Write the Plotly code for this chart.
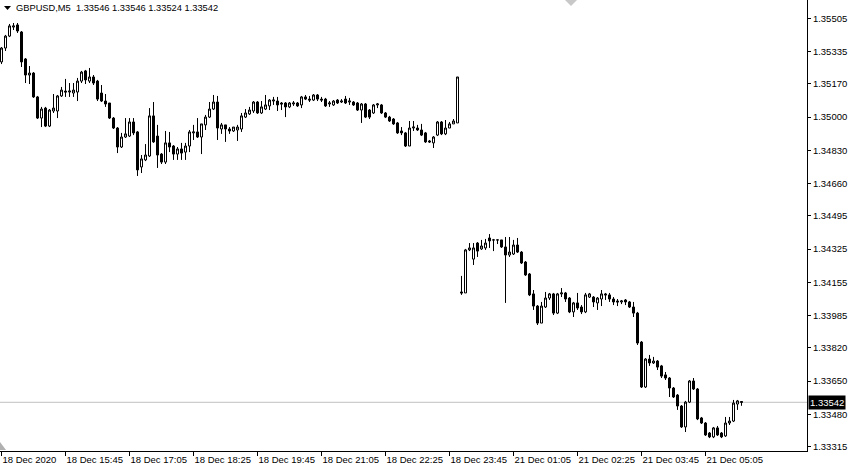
import pandas as pd
import plotly.graph_objects as go

# ---- data (GBPUSD M5) ----
fri = pd.date_range("2020-12-18 14:25", "2020-12-18 23:55", freq="5min")
mon = pd.date_range("2020-12-21 00:00", "2020-12-21 05:50", freq="5min")
times = [t.strftime("%Y-%m-%d %H:%M") for t in list(fri) + list(mon)]

open_ = [1.35282, 1.35353, 1.35414, 1.35460, 1.35471, 1.35435, 1.35297, 1.35215, 1.35225, 1.35103,
         1.34995, 1.35046, 1.34954, 1.35031, 1.35031, 1.35108, 1.35133, 1.35128, 1.35123, 1.35128,
         1.35184, 1.35236, 1.35184, 1.35205, 1.35184, 1.35123, 1.35082, 1.35072, 1.34995, 1.34944,
         1.34847, 1.34898, 1.34903, 1.34975, 1.34924, 1.34745, 1.34781, 1.34801, 1.35006, 1.34903,
         1.34811, 1.34770, 1.34868, 1.34852, 1.34811, 1.34837, 1.34821, 1.34852, 1.34919, 1.34924,
         1.34898, 1.34960, 1.35000, 1.35041, 1.35077, 1.34939, 1.34960, 1.34939, 1.34929, 1.34934,
         1.34939, 1.35000, 1.35016, 1.35031, 1.35077, 1.35021, 1.35041, 1.35057, 1.35082, 1.35082,
         1.35072, 1.35072, 1.35052, 1.35067, 1.35072, 1.35062, 1.35103, 1.35092, 1.35087, 1.35113,
         1.35092, 1.35092, 1.35067, 1.35062, 1.35087, 1.35077, 1.35092, 1.35077, 1.35077, 1.35072,
         1.35036, 1.35067, 1.35036, 1.35021, 1.35062, 1.35062, 1.35021, 1.35000, 1.34990, 1.34970,
         1.34929, 1.34919, 1.34852, 1.34944, 1.34944, 1.34934, 1.34919, 1.34878, 1.34868, 1.34908,
         1.34975, 1.34914, 1.34944, 1.34965, 1.34970,
         1.34106, 1.34101, 1.34321, 1.34274, 1.34356,
         1.34326, 1.34331, 1.34382, 1.34372, 1.34372, 1.34372, 1.34336, 1.34295, 1.34300, 1.34346,
         1.34310, 1.34259, 1.34198, 1.34096, 1.34034, 1.33947, 1.34029, 1.34075, 1.34096, 1.33998,
         1.34096, 1.34101, 1.34075, 1.34004, 1.34050, 1.34029, 1.34004, 1.34080, 1.34080, 1.34050,
         1.34070, 1.34096, 1.34091, 1.34070, 1.34060, 1.34055, 1.34065, 1.34055, 1.34029, 1.33998,
         1.33850, 1.33620, 1.33763, 1.33743, 1.33753, 1.33728, 1.33682, 1.33666, 1.33615, 1.33579,
         1.33523, 1.33416, 1.33543, 1.33651, 1.33610, 1.33462, 1.33436, 1.33385, 1.33365, 1.33411,
         1.33385, 1.33370, 1.33436, 1.33446, 1.33533, 1.33546]

high = [1.35358, 1.35420, 1.35476, 1.35481, 1.35481, 1.35440, 1.35302, 1.35261, 1.35230, 1.35108,
        1.35052, 1.35052, 1.35041, 1.35118, 1.35113, 1.35154, 1.35195, 1.35174, 1.35174, 1.35200,
        1.35236, 1.35241, 1.35251, 1.35215, 1.35190, 1.35164, 1.35118, 1.35072, 1.35000, 1.34949,
        1.34919, 1.34995, 1.34995, 1.34995, 1.34929, 1.34806, 1.34862, 1.35046, 1.35077, 1.34960,
        1.34816, 1.34929, 1.34924, 1.34857, 1.34847, 1.34868, 1.34868, 1.34934, 1.34960, 1.34995,
        1.34965, 1.35011, 1.35077, 1.35113, 1.35108, 1.34970, 1.34960, 1.34949, 1.34949, 1.34960,
        1.35021, 1.35041, 1.35052, 1.35082, 1.35082, 1.35082, 1.35113, 1.35092, 1.35103, 1.35103,
        1.35077, 1.35077, 1.35077, 1.35082, 1.35077, 1.35108, 1.35113, 1.35108, 1.35118, 1.35118,
        1.35103, 1.35098, 1.35082, 1.35087, 1.35092, 1.35092, 1.35108, 1.35098, 1.35082, 1.35077,
        1.35072, 1.35072, 1.35041, 1.35067, 1.35072, 1.35067, 1.35026, 1.35006, 1.34995, 1.34975,
        1.34949, 1.34924, 1.34980, 1.34980, 1.34960, 1.34965, 1.34924, 1.34883, 1.34903, 1.34980,
        1.34980, 1.34985, 1.34975, 1.34990, 1.35205,
        1.34188, 1.34326, 1.34356, 1.34356, 1.34361,
        1.34372, 1.34377, 1.34402, 1.34377, 1.34372, 1.34372, 1.34387, 1.34387, 1.34372, 1.34382,
        1.34315, 1.34264, 1.34203, 1.34116, 1.34039, 1.34055, 1.34106, 1.34101, 1.34101, 1.34101,
        1.34126, 1.34106, 1.34080, 1.34055, 1.34101, 1.34039, 1.34101, 1.34101, 1.34085, 1.34080,
        1.34116, 1.34101, 1.34101, 1.34080, 1.34070, 1.34065, 1.34070, 1.34060, 1.34055, 1.34004,
        1.33855, 1.33768, 1.33784, 1.33774, 1.33758, 1.33733, 1.33697, 1.33671, 1.33620, 1.33584,
        1.33528, 1.33549, 1.33656, 1.33666, 1.33615, 1.33467, 1.33441, 1.33390, 1.33416, 1.33421,
        1.33390, 1.33467, 1.33467, 1.33554, 1.33554, 1.33546]

low = [1.35271, 1.35338, 1.35409, 1.35445, 1.35430, 1.35256, 1.35174, 1.35169, 1.35098, 1.34990,
       1.34949, 1.34949, 1.34949, 1.35021, 1.34995, 1.35103, 1.35103, 1.35103, 1.35103, 1.35082,
       1.35174, 1.35169, 1.35174, 1.35164, 1.35082, 1.35077, 1.35052, 1.34990, 1.34939, 1.34816,
       1.34842, 1.34893, 1.34898, 1.34908, 1.34699, 1.34714, 1.34775, 1.34796, 1.34868, 1.34740,
       1.34760, 1.34760, 1.34821, 1.34781, 1.34781, 1.34781, 1.34781, 1.34821, 1.34883, 1.34893,
       1.34811, 1.34934, 1.34995, 1.35036, 1.34883, 1.34914, 1.34873, 1.34914, 1.34924, 1.34878,
       1.34924, 1.34995, 1.35011, 1.35021, 1.35016, 1.35016, 1.35036, 1.35036, 1.35062, 1.35031,
       1.35036, 1.35000, 1.35046, 1.35057, 1.35052, 1.35046, 1.35087, 1.35077, 1.35082, 1.35082,
       1.35077, 1.35052, 1.35052, 1.35057, 1.35067, 1.35072, 1.35067, 1.35062, 1.35057, 1.35031,
       1.34970, 1.34995, 1.34990, 1.35016, 1.35046, 1.35016, 1.34995, 1.34975, 1.34960, 1.34914,
       1.34908, 1.34847, 1.34852, 1.34929, 1.34929, 1.34903, 1.34868, 1.34868, 1.34842, 1.34903,
       1.34908, 1.34908, 1.34944, 1.34965, 1.34970,
       1.34091, 1.34101, 1.34315, 1.34244, 1.34285,
       1.34321, 1.34321, 1.34331, 1.34315, 1.34351, 1.34331, 1.34050, 1.34285, 1.34295, 1.34305,
       1.34249, 1.34188, 1.34085, 1.34014, 1.33937, 1.33947, 1.34024, 1.34065, 1.33988, 1.33993,
       1.34080, 1.34055, 1.33998, 1.33978, 1.34014, 1.33993, 1.33998, 1.34075, 1.34029, 1.34014,
       1.34034, 1.34065, 1.34055, 1.34039, 1.34034, 1.34044, 1.34039, 1.34024, 1.33978, 1.33835,
       1.33615, 1.33615, 1.33728, 1.33738, 1.33707, 1.33666, 1.33656, 1.33569, 1.33564, 1.33503,
       1.33411, 1.33390, 1.33538, 1.33605, 1.33451, 1.33431, 1.33370, 1.33359, 1.33359, 1.33370,
       1.33359, 1.33365, 1.33426, 1.33441, 1.33503, 1.33524]

close = [1.35353, 1.35414, 1.35466, 1.35466, 1.35440, 1.35282, 1.35215, 1.35225, 1.35103, 1.34995,
         1.35041, 1.34954, 1.35036, 1.35046, 1.35108, 1.35138, 1.35128, 1.35133, 1.35138, 1.35184,
         1.35230, 1.35190, 1.35205, 1.35174, 1.35092, 1.35082, 1.35067, 1.34995, 1.34944, 1.34847,
         1.34898, 1.34914, 1.34975, 1.34919, 1.34730, 1.34786, 1.34806, 1.35006, 1.34873, 1.34806,
         1.34770, 1.34868, 1.34847, 1.34811, 1.34837, 1.34816, 1.34852, 1.34924, 1.34924, 1.34898,
         1.34965, 1.35000, 1.35041, 1.35077, 1.34944, 1.34960, 1.34939, 1.34929, 1.34949, 1.34949,
         1.35006, 1.35021, 1.35036, 1.35077, 1.35021, 1.35052, 1.35062, 1.35087, 1.35087, 1.35062,
         1.35067, 1.35052, 1.35072, 1.35072, 1.35057, 1.35103, 1.35092, 1.35087, 1.35113, 1.35092,
         1.35087, 1.35057, 1.35072, 1.35082, 1.35072, 1.35082, 1.35072, 1.35082, 1.35062, 1.35036,
         1.35067, 1.35000, 1.35000, 1.35062, 1.35067, 1.35021, 1.35000, 1.34980, 1.34965, 1.34919,
         1.34919, 1.34852, 1.34944, 1.34949, 1.34934, 1.34908, 1.34873, 1.34873, 1.34898, 1.34975,
         1.34914, 1.34944, 1.34965, 1.34980, 1.35205,
         1.34101, 1.34321, 1.34331, 1.34331, 1.34315,
         1.34341, 1.34356, 1.34367, 1.34372, 1.34372, 1.34336, 1.34295, 1.34310, 1.34346, 1.34310,
         1.34254, 1.34193, 1.34091, 1.34034, 1.33947, 1.34034, 1.34075, 1.34096, 1.33998, 1.34096,
         1.34101, 1.34070, 1.34004, 1.34050, 1.34024, 1.34004, 1.34091, 1.34096, 1.34055, 1.34075,
         1.34096, 1.34091, 1.34070, 1.34055, 1.34055, 1.34060, 1.34055, 1.34029, 1.33998, 1.33845,
         1.33620, 1.33763, 1.33743, 1.33753, 1.33722, 1.33676, 1.33666, 1.33615, 1.33569, 1.33523,
         1.33416, 1.33543, 1.33651, 1.33610, 1.33457, 1.33436, 1.33375, 1.33365, 1.33411, 1.33375,
         1.33365, 1.33436, 1.33446, 1.33538, 1.33549, 1.33542]

x_tick_times = ["2020-12-18 14:25", "2020-12-18 15:45", "2020-12-18 17:05", "2020-12-18 18:25",
                "2020-12-18 19:45", "2020-12-18 21:05", "2020-12-18 22:25", "2020-12-18 23:45",
                "2020-12-21 01:05", "2020-12-21 02:25", "2020-12-21 03:45", "2020-12-21 05:05"]
x_tick_labels = ["18 Dec 2020", "18 Dec 15:45", "18 Dec 17:05", "18 Dec 18:25",
                 "18 Dec 19:45", "18 Dec 21:05", "18 Dec 22:25", "18 Dec 23:45",
                 "21 Dec 01:05", "21 Dec 02:25", "21 Dec 03:45", "21 Dec 05:05"]
y_ticks = [1.35505, 1.35335, 1.35170, 1.35000, 1.34830, 1.34660, 1.34495,
           1.34325, 1.34155, 1.33985, 1.33820, 1.33650, 1.33480, 1.33315]
bid = 1.33542
header = "GBPUSD,M5\u00a0\u00a01.33546 1.33546 1.33524 1.33542"

# ---- figure ----
FONT = "Liberation Sans, Arial, sans-serif"
W, H = 850, 468
ML, MR, MT, MB = 0, 43, 0, 17
PW, PH = W - ML - MR, H - MT - MB
BAR_PX = 4.0
X0 = -0.375  # puts candle centres on half pixels for crisp outlines

def px(x):
    return x / PW

def py(y):
    return 1 - y / PH

fig = go.Figure(go.Candlestick(
    x=times, open=open_, high=high, low=low, close=close,
    increasing=dict(line=dict(color="black", width=1), fillcolor="white"),
    decreasing=dict(line=dict(color="black", width=1), fillcolor="black"),
    whiskerwidth=0, hoverinfo="none",
))

fig.add_shape(type="line", xref="paper", x0=0, x1=1, yref="y", y0=bid, y1=bid,
              line=dict(color="#C0C0C0", width=1), layer="below")

# small markers (header triangle, chart-shift triangle, corner triangle)
fig.add_shape(type="path", xref="paper", yref="paper",
              path=f"M{px(4)},{py(6)} L{px(11)},{py(6)} L{px(7.5)},{py(10)} Z",
              fillcolor="black", line=dict(width=0))
fig.add_shape(type="path", xref="paper", yref="paper",
              path=f"M{px(565)},{py(0)} L{px(577)},{py(0)} L{px(571)},{py(6)} Z",
              fillcolor="#C8C8C8", line=dict(width=0))
fig.add_shape(type="path", xref="paper", yref="paper",
              path=f"M{px(0)},{py(442)} L{px(0)},{py(450)} L{px(6)},{py(450)} Z",
              fillcolor="#B0B0B0", line=dict(width=0))

fig.add_annotation(xref="paper", yref="paper", x=0, y=1, xanchor="left", yanchor="top",
                   xshift=14, yshift=-1, text=header, showarrow=False,
                   font=dict(family=FONT, size=9.3, color="black"))
fig.add_annotation(xref="paper", yref="y", x=1, y=bid, xanchor="left", yanchor="middle",
                   xshift=1, text="1.33542", showarrow=False, bgcolor="black",
                   borderpad=1, font=dict(family=FONT, size=9.5, color="white"))

fig.update_layout(
    width=W, height=H, margin=dict(l=ML, r=MR, t=MT, b=MB, autoexpand=False),
    paper_bgcolor="white", plot_bgcolor="white", showlegend=False,
    boxmode="overlay", boxgap=0.5, boxgroupgap=0,
    font=dict(family=FONT, size=9.5, color="black"),
    xaxis=dict(type="category", range=[X0, X0 + PW / BAR_PX], rangeslider=dict(visible=False),
               automargin=False, tickangle=0,
               showgrid=False, zeroline=False, showline=True, linecolor="black", linewidth=1,
               ticks="outside", ticklen=4, tickcolor="black", tickwidth=1,
               tickvals=x_tick_times, ticktext=x_tick_labels,
               ticklabelposition="outside right",
               tickfont=dict(family=FONT, size=9.5, color="black")),
    yaxis=dict(side="right", range=[1.33293, 1.355985], showgrid=False, zeroline=False,
               automargin=False,
               showline=True, linecolor="black", linewidth=1,
               ticks="outside", ticklen=3, tickcolor="black", tickwidth=1,
               tickvals=y_ticks, ticktext=[f"{v:.5f}" for v in y_ticks],
               tickfont=dict(family=FONT, size=9.5, color="black")),
)

fig.write_html("out.html", config={"displayModeBar": False},
               post_script="document.body.style.margin='0';document.body.style.overflow='hidden';")
